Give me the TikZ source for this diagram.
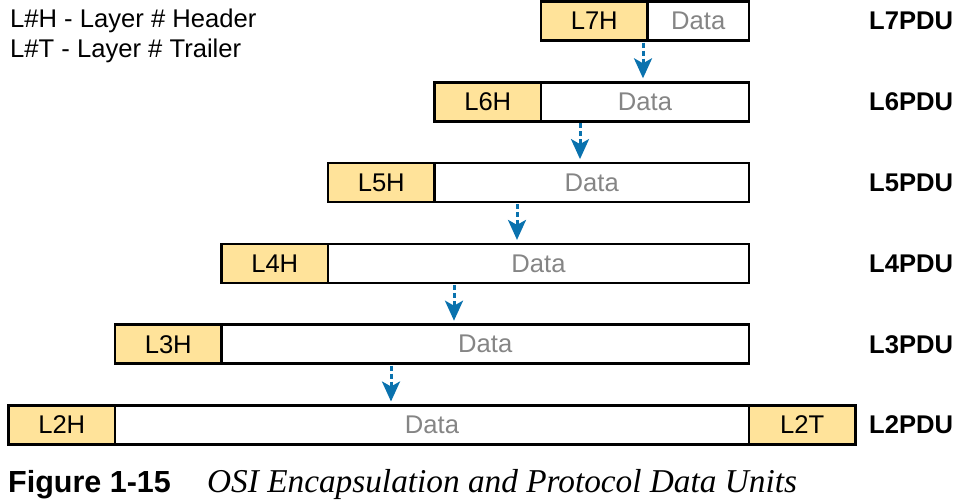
\documentclass[tikz,border=0pt]{standalone}
\usepackage{fontspec}
\setmainfont{Liberation Sans}
\newfontfamily\capserif{Liberation Serif}
\newfontfamily\capsans{Liberation Sans}
\usetikzlibrary{arrows.meta,positioning}

\definecolor{hdrfill}{HTML}{FFE39A}
\definecolor{datagray}{HTML}{858585}
\definecolor{flowblue}{HTML}{0A72AE}
\newcommand{\boxfont}{\fontsize{25.6}{30}\selectfont}

\tikzset{
  hdr/.style={draw, line width=2.6pt, fill=hdrfill, minimum width=106.5pt,
    minimum height=39pt, inner sep=0pt, outer sep=0pt, font=\boxfont},
  dat/.style={draw, line width=2.6pt, minimum height=39pt, inner sep=0pt,
    outer sep=0pt, font=\boxfont, text=datagray},
  pdu/.style={anchor=west, inner sep=0pt, font=\boxfont\bfseries},
  legend/.style={anchor=base west, inner sep=0pt, font=\boxfont},
  flow/.style={draw=flowblue, line width=3pt, dash pattern=on 5pt off 3pt,
    -{Stealth[length=20pt, width=18pt, inset=5pt]}}
}

\begin{document}
\begin{tikzpicture}[x=1pt,y=-1pt]
\useasboundingbox (0,0) rectangle (958,501);

% legend
\node[legend] (keyH) at (10,27) {L\#H - Layer \# Header};
\node[legend] (keyT) at (10,57) {L\#T - Layer \# Trailer};

% layer 7
\node[hdr] (L7H) at (594.25,21) {L7H};
\node[dat, minimum width=101.5pt, right=0pt of L7H] (L7D) {Data};
\node[pdu] (P7) at (869,21) {L7PDU};

% layer 6
\node[hdr] (L6H) at (487.75,101.8) {L6H};
\node[dat, minimum width=208pt, right=0pt of L6H] (L6D) {Data};
\node[pdu] (P6) at (869,101.8) {L6PDU};

% layer 5
\node[hdr] (L5H) at (381.25,182.6) {L5H};
\node[dat, minimum width=314.5pt, right=0pt of L5H] (L5D) {Data};
\node[pdu] (P5) at (869,182.6) {L5PDU};

% layer 4
\node[hdr] (L4H) at (274.75,263.4) {L4H};
\node[dat, minimum width=421pt, right=0pt of L4H] (L4D) {Data};
\node[pdu] (P4) at (869,263.4) {L4PDU};

% layer 3
\node[hdr] (L3H) at (168.25,344.2) {L3H};
\node[dat, minimum width=527.5pt, right=0pt of L3H] (L3D) {Data};
\node[pdu] (P3) at (869,344.2) {L3PDU};

% layer 2
\node[hdr] (L2H) at (61.75,425) {L2H};
\node[dat, minimum width=634pt, right=0pt of L2H] (L2D) {Data};
\node[hdr, right=0pt of L2D] (L2T) {L2T};
\node[pdu] (P2) at (869,425) {L2PDU};

% arrows
\coordinate (a7) at (643,0);
\coordinate (a6) at (580,0);
\coordinate (a5) at (517,0);
\coordinate (a4) at (454,0);
\coordinate (a3) at (391,0);
\draw[flow] ([yshift=-2pt]a7 |- L7H.south) -- ([yshift=4pt]a7 |- L6D.north);
\draw[flow] ([yshift=-2pt]a6 |- L6D.south) -- ([yshift=4pt]a6 |- L5D.north);
\draw[flow] ([yshift=-2pt]a5 |- L5D.south) -- ([yshift=4pt]a5 |- L4D.north);
\draw[flow] ([yshift=-2pt]a4 |- L4D.south) -- ([yshift=4pt]a4 |- L3D.north);
\draw[flow] ([yshift=-2pt]a3 |- L3D.south) -- ([yshift=4pt]a3 |- L2D.north);

% caption
\node[anchor=base west, inner sep=0pt, font={\fontsize{30.5}{34}\capsans\bfseries}] (fig) at (8,492) {Figure 1-15};
\node[anchor=base west, inner sep=0pt, font={\fontsize{33.3}{36}\capserif\itshape}] (title) at (207,492) {OSI Encapsulation and Protocol Data Units};
\end{tikzpicture}
\end{document}
